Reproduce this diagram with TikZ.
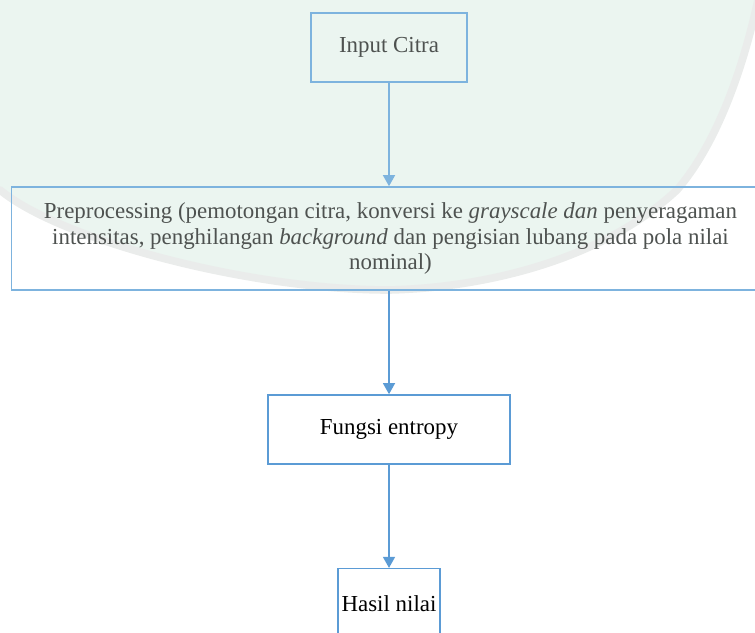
\documentclass[tikz,border=0pt]{standalone}
\usepackage{fontspec}
\setmainfont{Liberation Serif}
\usetikzlibrary{arrows.meta}
\definecolor{boxblue}{RGB}{91,155,213}
\definecolor{paleblue}{RGB}{125,179,222}
\definecolor{paletext}{RGB}{78,82,80}
\definecolor{shieldfill}{RGB}{235,245,240}
\definecolor{shieldedge}{RGB}{234,236,235}
\begin{document}
\begin{tikzpicture}[x=0.524pt,y=-0.524pt,
  box/.style={draw=boxblue, line width=0.8pt, inner sep=0pt, align=center,
    font=\fontsize{12}{13.4}\selectfont, text=black},
  pale/.style={draw=paleblue, text=paletext},
  flow/.style={draw=boxblue, line width=0.8pt,
    -{Triangle[width=6.3pt,length=5.8pt]}}]
\useasboundingbox (0,0) rectangle (755,633);

% faint shield in the background of the upper part
\fill[shieldfill]
  (0,0) -- (758,0) .. controls (745,60) and (720,140) .. (677,190)
  .. controls (600,262) and (480,288) .. (389,290)
  .. controls (250,290) and (60,240) .. (0,190) -- cycle;
\draw[shieldedge, line width=4pt, line cap=round]
  (758,0) .. controls (745,60) and (720,140) .. (677,190)
  .. controls (600,262) and (480,288) .. (389,290)
  .. controls (250,290) and (60,240) .. (0,190);

% process steps
\node[box, pale, fill=shieldfill, minimum width=81.7pt, minimum height=36.2pt]
  (input) at (389,47.5) {Input Citra};
\node[box, pale, minimum width=397.2pt, minimum height=54pt] (pre) at (390.5,238.5)
  {Preprocessing (pemotongan citra, konversi ke \textit{grayscale dan} penyeragaman\\
   intensitas, penghilangan \textit{background} dan pengisian lubang pada pola nilai\\
   nominal)};
\node[box, minimum width=126.8pt, minimum height=36.2pt] (entropy) at (389,429.5)
  {Fungsi entropy};
\node[box, minimum width=53.4pt, minimum height=37pt] (hasil) at (389,604)
  {Hasil nilai};

% connectors
\draw[flow, draw=paleblue, -{Triangle[width=6.3pt,length=5.8pt,fill=paleblue]}]
  (input.south) -- (input.south |- pre.north);
\draw[flow] (input.south |- pre.south) -- (entropy.north);
\draw[flow] (entropy.south) -- (hasil.north);
\end{tikzpicture}
\end{document}
